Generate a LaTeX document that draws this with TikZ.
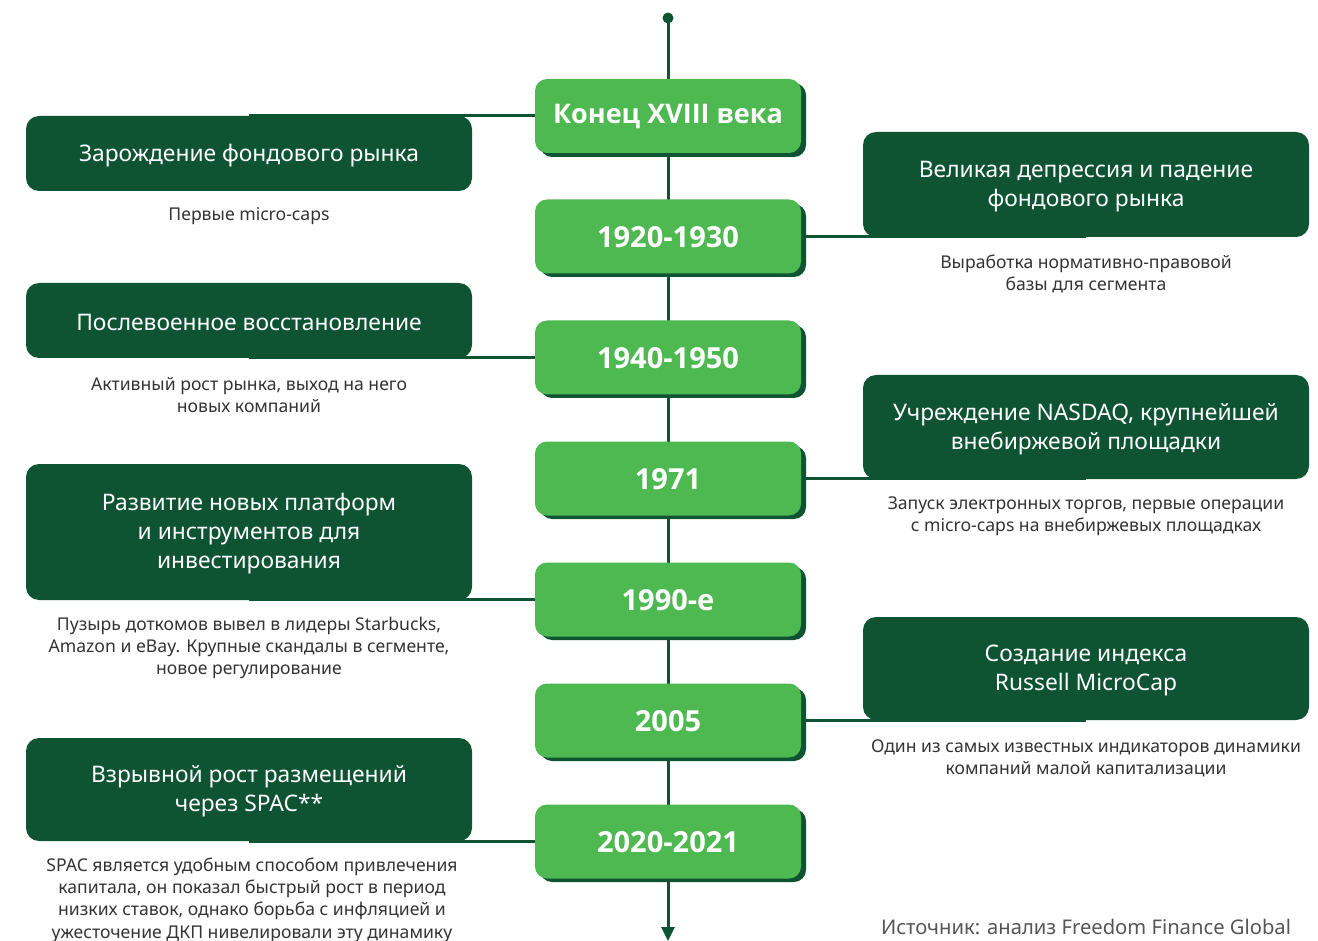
\documentclass[tikz,border=0pt]{standalone}
\usepackage{fontspec}
\setmainfont{Noto Sans}
\newfontfamily\yearfont{Open Sans}
\usetikzlibrary{arrows.meta}
\pgfdeclarelayer{background}
\pgfsetlayers{background,main}
\definecolor{darkg}{HTML}{0E5433}
\definecolor{lightg}{HTML}{4DB950}
\definecolor{captxt}{HTML}{333333}
\definecolor{srctxt}{HTML}{555555}
\tikzset{
  yearbox/.style={fill=lightg, rounded corners=12pt, minimum width=266pt, minimum height=74pt, inner sep=0pt},
  yeartext/.style={text=white, font=\yearfont\bfseries\fontsize{29}{30}\selectfont, inner sep=0pt},
  yearshadow/.style={fill=darkg, rounded corners=12pt},
  eventbox/.style={fill=darkg, rounded corners=13pt, minimum width=446pt, inner sep=0pt},
  evtext/.style={align=center, text=white, font=\fontsize{22.8}{29}\selectfont, inner sep=0pt},
  caption/.style={align=center, text=captxt, font=\fontsize{17.6}{22.3}\selectfont, inner sep=0pt},
  link/.style={draw=darkg, line width=3pt},
}
\begin{document}
\begin{tikzpicture}[x=1pt,y=-1pt]
\useasboundingbox (0,0) rectangle (1318,941);

% timeline years, each with a dark offset shadow
\fill[yearshadow] (540,83) rectangle (806,157);
\node[yearbox] (y0) at (668,116) {};
\fill[yearshadow] (540,204) rectangle (806,277);
\node[yearbox] (y1) at (668,236.5) {};
\fill[yearshadow] (540,325) rectangle (806,398);
\node[yearbox] (y2) at (668,357.5) {};
\fill[yearshadow] (540,446) rectangle (806,519);
\node[yearbox] (y3) at (668,478.5) {};
\fill[yearshadow] (540,567) rectangle (806,640);
\node[yearbox] (y4) at (668,599.5) {};
\fill[yearshadow] (540,688) rectangle (806,761);
\node[yearbox] (y5) at (668,720.5) {};
\fill[yearshadow] (540,809) rectangle (806,882);
\node[yearbox] (y6) at (668,841.5) {};

\node[yeartext, font=\yearfont\bfseries\fontsize{27}{30}\selectfont] (t0) at ([yshift=-1pt]y0.center) {Конец XVIII века};
\foreach \n/\t in {y1/1920-1930, y2/1940-1950, y3/1971, y4/1990-е, y5/2005, y6/2020-2021}
  \node[yeartext] (t\n) at ([yshift=-1pt]\n.center) {\t};

% events on the left
\node[eventbox, minimum height=75pt] (l1) at (249,153.5) {};
\node[eventbox, minimum height=75pt] (l2) at (249,320.5) {};
\node[eventbox, minimum height=136pt] (l3) at (249,532) {};
\node[eventbox, minimum height=103pt] (l4) at (249,789.5) {};
% events on the right
\node[eventbox, minimum height=105pt] (r1) at (1086,184.5) {};
\node[eventbox, minimum height=104pt] (r2) at (1086,427) {};
\node[eventbox, minimum height=103pt] (r3) at (1086,668.5) {};

\node[evtext] (el1) at ([yshift=-2pt]l1.center) {Зарождение фондового рынка};
\node[evtext] (el2) at ([yshift=-2pt]l2.center) {Послевоенное восстановление};
\node[evtext] (el3) at ([yshift=-2pt]l3.center) {Развитие новых платформ\\и инструментов для\\инвестирования};
\node[evtext] (el4) at ([yshift=-2pt]l4.center) {Взрывной рост размещений\\через SPAC**};
\node[evtext] (er1) at ([yshift=-2pt]r1.center) {Великая депрессия и падение\\фондового рынка};
\node[evtext] (er2) at ([yshift=-2pt]r2.center) {Учреждение NASDAQ, крупнейшей\\внебиржевой площадки};
\node[evtext] (er3) at ([yshift=-2pt]r3.center) {Создание индекса\\Russell MicroCap};

% captions
\node[caption] (c1) at (249,216) {Первые micro-caps};
\node[caption] (c2) at (249,395) {Активный рост рынка, выход на него\\новых компаний};
\node[caption] (c3) at (249,648) {Пузырь доткомов вывел в лидеры Starbucks,\\Amazon и eBay. Крупные скандалы в сегменте,\\новое регулирование};
\node[caption] (c4) at (252,900) {SPAC является удобным способом привлечения\\капитала, он показал быстрый рост в период\\низких ставок, однако борьба с инфляцией и\\ужесточение ДКП нивелировали эту динамику};
\node[caption] (c5) at (1086,274) {Выработка нормативно-правовой\\базы для сегмента};
\node[caption] (c6) at (1086,516) {Запуск электронных торгов, первые операции\\с micro-caps на внебиржевых площадках};
\node[caption] (c7) at (1086,758) {Один из самых известных индикаторов динамики\\компаний малой капитализации};

\node[text=srctxt, font=\fontsize{20.2}{22}\selectfont, inner sep=0pt] (src) at (1086,927) {Источник: анализ Freedom Finance Global};

% axis ends
\fill[darkg] (668,18) circle (5.5pt);
\coordinate (top) at (668,18);
\coordinate (bottom) at (668,941);

\begin{pgfonlayer}{background}
  \draw[link, -{Triangle[width=13pt,length=14pt]}] (top) -- (bottom);
  \draw[link] (y0.west) -- (y0.west -| l1.center);
  \draw[link] (y2.west) -- (y2.west -| l2.center);
  \draw[link] (y4.west) -- (y4.west -| l3.center);
  \draw[link] (y6.west) -- (y6.west -| l4.center);
  \draw[link] (y1.east) -- (y1.east -| r1.center);
  \draw[link] (y3.east) -- (y3.east -| r2.center);
  \draw[link] (y5.east) -- (y5.east -| r3.center);
\end{pgfonlayer}
\end{tikzpicture}
\end{document}
